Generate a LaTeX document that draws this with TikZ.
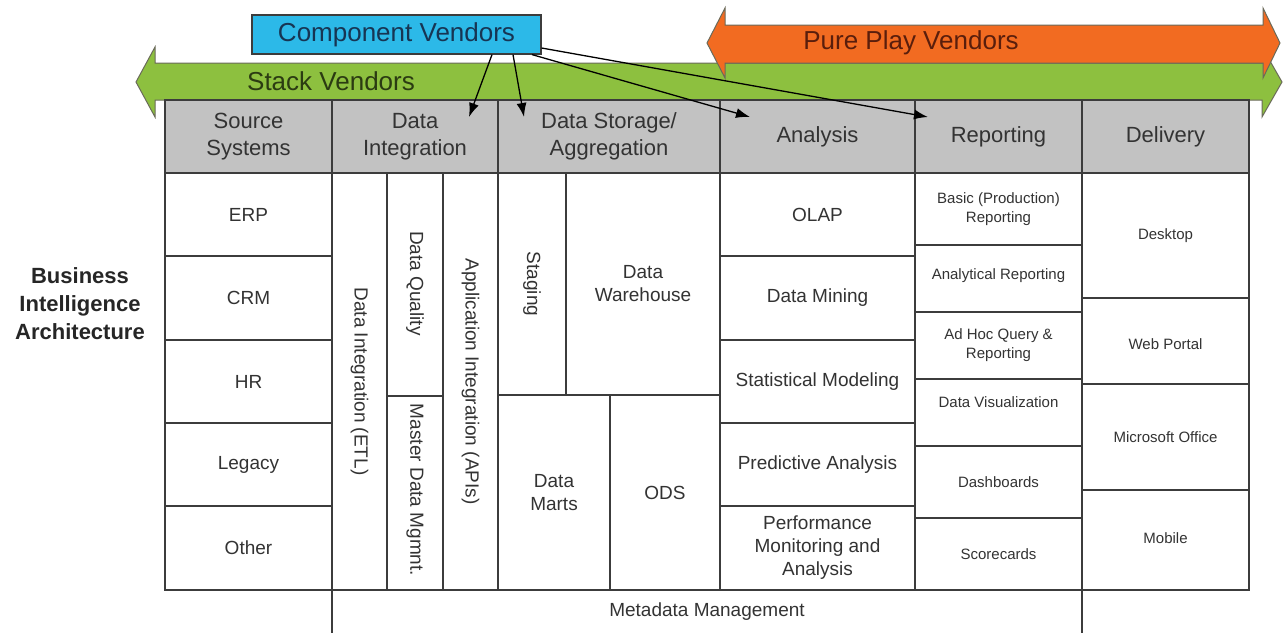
\documentclass[tikz,border=0pt]{standalone}
\usepackage{fontspec}
\setmainfont{Liberation Sans}
\usetikzlibrary{arrows.meta,calc}

\definecolor{gridline}{HTML}{3C3C3C}
\definecolor{hdrfill}{HTML}{C2C2C2}
\definecolor{stackgreen}{HTML}{8DC03F}
\definecolor{stacktext}{HTML}{2B3B12}
\definecolor{pureorange}{HTML}{F26B21}
\definecolor{puretext}{HTML}{5A1E0C}
\definecolor{compcyan}{HTML}{2CB9E8}
\definecolor{comptext}{HTML}{173553}
\definecolor{celltext}{HTML}{333333}
\definecolor{arrowedge}{HTML}{6A6A5A}

% \bicell[options]{name}{left}{top}{width}{height}{text}
\newcommand{\bicell}[7][]{%
  \node[cell,#1,minimum width=#5pt,minimum height=#6pt] (#2) at (#3,-#4) {#7};}

\begin{document}
\begin{tikzpicture}[x=1pt,y=1pt,
  cell/.style={draw=gridline, line width=1.6pt, fill=white, inner sep=1pt,
    outer sep=0pt, anchor=north west, align=center, text=celltext,
    font=\fontsize{19}{23}\selectfont},
  hdr/.style={fill=hdrfill, font=\fontsize{22}{27}\selectfont},
  small/.style={font=\fontsize{15}{19}\selectfont},
  vlabel/.style={rotate=-90, text=celltext, inner sep=0pt,
    font=\fontsize{19}{23}\selectfont},
  banner/.style={draw=arrowedge, line width=1pt, line join=miter},
  conn/.style={draw=black, line width=1.3pt,
    -{Latex[length=14pt,width=10pt]}},
]
\useasboundingbox (0,0) rectangle (1284,-633);

% vendor banners
\path[banner, fill=stackgreen]
  (136,-82) -- (155,-47) -- (155,-63) -- (1262,-63) -- (1262,-47)
  -- (1282,-82) -- (1262,-117) -- (1262,-100) -- (155,-100)
  -- (155,-117) -- cycle;
\path[banner, fill=pureorange]
  (707,-43) -- (725,-8) -- (725,-25) -- (1263,-25) -- (1263,-8)
  -- (1280,-43) -- (1263,-78) -- (1263,-63) -- (725,-63)
  -- (725,-78) -- cycle;
\node[text=stacktext, font=\fontsize{26}{30}\selectfont] (stk) at (331,-81) {Stack Vendors};
\node[text=puretext, font=\fontsize{26}{30}\selectfont] (ppv) at (911,-43) {Pure Play Vendors};

\node[draw=gridline, line width=1.2pt, fill=compcyan, minimum width=289pt,
  minimum height=39pt, inner sep=0pt, text=comptext,
  font=\fontsize{26}{30}\selectfont] (cv) at (396.5,-34.5) {Component Vendors};

% header row
\bicell[hdr]{hsrc}{165}{100}{167}{73}{Source\\Systems}
\bicell[hdr]{hdi}{332}{100}{166}{73}{Data\\Integration}
\bicell[hdr]{hds}{498}{100}{222}{73}{Data Storage/\\Aggregation}
\bicell[hdr]{han}{720}{100}{195}{73}{Analysis}
\bicell[hdr]{hrp}{915}{100}{167}{73}{Reporting}
\bicell[hdr]{hdl}{1082}{100}{167}{73}{Delivery}

% source systems
\bicell{erp}{165}{173}{167}{83}{ERP}
\bicell{crm}{165}{256}{167}{84}{CRM}
\bicell{hr}{165}{340}{167}{83}{HR}
\bicell{legacy}{165}{423}{167}{83}{Legacy}
\bicell{other}{165}{506}{167}{84}{Other}

% data integration
\bicell{etl}{332}{173}{55}{417}{}
\bicell{dq}{387}{173}{56}{223}{}
\bicell{mdm}{387}{396}{56}{194}{}
\bicell{api}{443}{173}{55}{417}{}
\node[vlabel] (etltxt) at (etl.center) {Data Integration (ETL)};
\node[vlabel] (dqtxt) at ([yshift=1pt]dq.center) {Data Quality};
\node[vlabel] (mdmtxt) at ([yshift=3pt]mdm.center) {Master Data Mgmnt.};
\node[vlabel] (apitxt) at (api.center) {Application Integration (APIs)};

% data storage / aggregation
\bicell{stg}{498}{173}{68}{222}{}
\node[vlabel] (stgtxt) at (stg.center) {Staging};
\bicell{dw}{566}{173}{154}{222}{Data\\Warehouse}
\bicell{dm}{498}{395}{112}{195}{Data\\Marts}
\bicell{ods}{610}{395}{110}{195}{ODS}

% analysis
\bicell{olap}{720}{173}{195}{83}{OLAP}
\bicell{dmin}{720}{256}{195}{84}{Data Mining}
\bicell{stat}{720}{340}{195}{83}{Statistical Modeling}
\bicell{pred}{720}{423}{195}{83}{Predictive Analysis}
\bicell{perf}{720}{506}{195}{84}{Performance\\Monitoring and\\Analysis}

% reporting
\bicell[small]{basic}{915}{173}{167}{72}{Basic (Production)\\Reporting}
\bicell[small]{anrep}{915}{245}{167}{67}{\raisebox{3pt}[\height][\depth]{Analytical Reporting}}
\bicell[small]{adhoc}{915}{312}{167}{67}{Ad Hoc Query \&\\Reporting}
\bicell[small]{dviz}{915}{379}{167}{67}{\raisebox{10pt}[\height][\depth]{Data Visualization}}
\bicell[small]{dash}{915}{446}{167}{72}{Dashboards}
\bicell[small]{score}{915}{518}{167}{72}{Scorecards}

% delivery
\bicell[small]{desk}{1082}{173}{167}{125}{Desktop}
\bicell[small]{web}{1082}{298}{167}{86}{\raisebox{-3pt}[\height][\depth]{Web Portal}}
\bicell[small]{msoff}{1082}{384}{167}{106}{Microsoft Office}
\bicell[small]{mobile}{1082}{490}{167}{100}{\raisebox{2pt}[\height][\depth]{Mobile}}

% metadata band
\node[cell, draw=none, fill=none, minimum width=750pt, minimum height=43pt]
  (meta) at (332,-590) {Metadata Management};
\draw[draw=gridline, line width=1.6pt] (meta.north west) -- (meta.south west);
\draw[draw=gridline, line width=1.6pt] (meta.north east) -- (meta.south east);

% side title
\node[align=center, text=black!85, font=\bfseries\fontsize{22}{28}\selectfont]
  (bia) at (80,-304) {Business\\Intelligence\\Architecture};

% connectors from component vendors
\coordinate (t1) at ([xshift=54pt,yshift=-17pt]hdi.north);
\coordinate (t2) at ([xshift=-85pt,yshift=-17pt]hds.north);
\coordinate (t3) at ([xshift=-67.5pt,yshift=-17pt]han.north);
\coordinate (t4) at ([xshift=-70.5pt,yshift=-17pt]hrp.north);
\draw[conn] ([xshift=95.5pt]cv.south) -- (t1);
\draw[conn] ([xshift=116.5pt]cv.south) -- (t2);
\draw[conn] ([xshift=135.5pt]cv.south) -- (t3);
\draw[conn] ([yshift=-13.5pt]cv.east) -- (t4);
\end{tikzpicture}
\end{document}
